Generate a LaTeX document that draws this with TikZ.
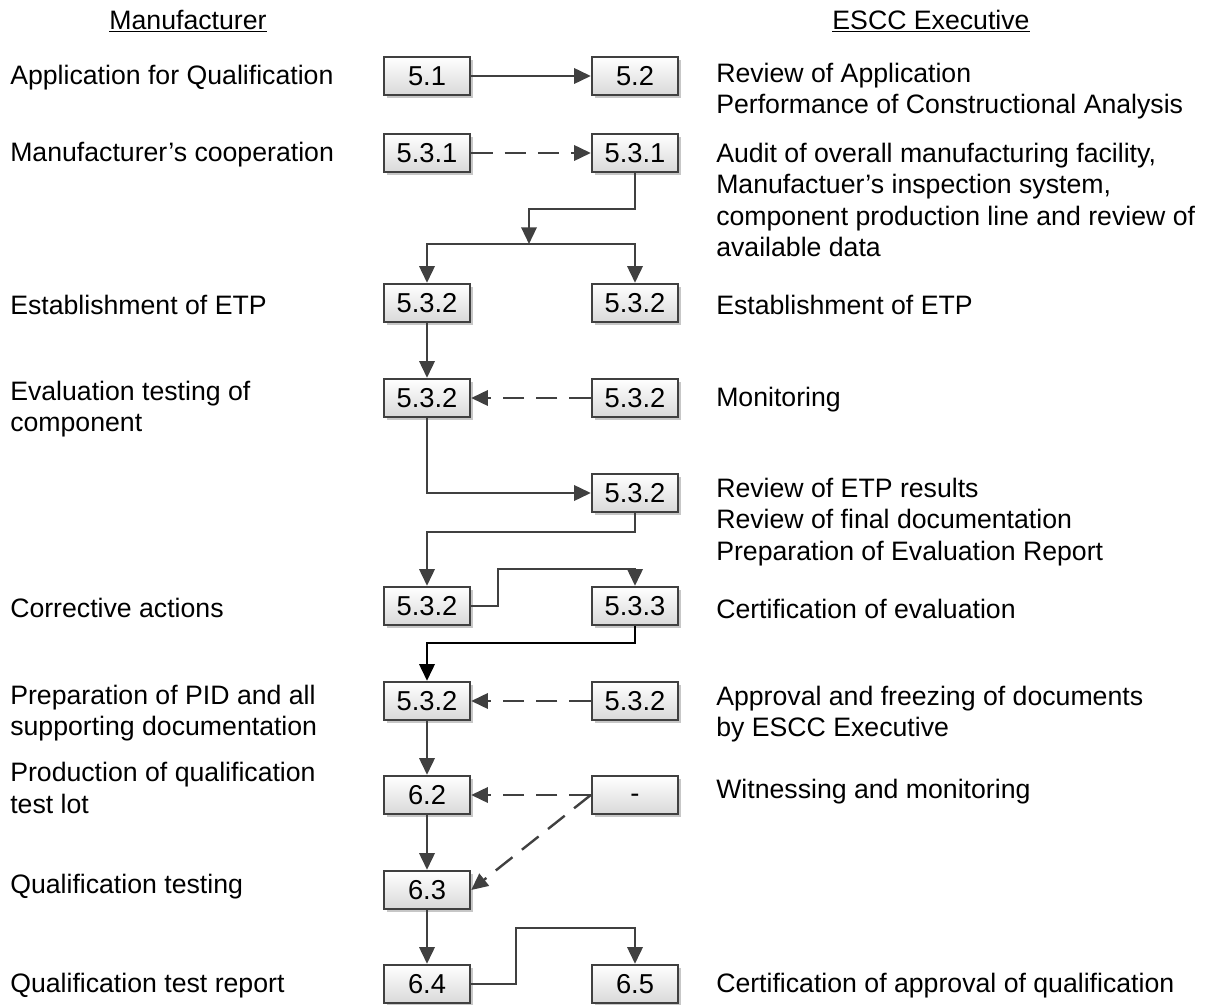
\documentclass[tikz,border=0pt]{standalone}
\usepackage{fontspec}
\setmainfont{Liberation Sans}
\usetikzlibrary{arrows.meta,shadows}
\definecolor{linegray}{HTML}{404040}
\begin{document}
\begin{tikzpicture}[x=0.75pt,y=-0.75pt,
 box/.style={draw=linegray, line width=1.8pt, top color=white, bottom color=black!15,
   minimum width=64.5pt, minimum height=28.5pt, inner sep=0pt,
   text height=14.2pt, text depth=0pt,
   font=\fontsize{20.5}{24}\selectfont,
   drop shadow={shadow xshift=2.5pt, shadow yshift=-2.5pt, fill=black, opacity=0.22}},
 lbl/.style={anchor=west, align=left, inner sep=0pt, font=\fontsize{20}{23.6}\selectfont},
 hdr/.style={inner sep=0pt, font=\fontsize{20}{24}\selectfont},
 conn/.style={color=linegray, line width=1.8pt, -{Triangle[length=12.5pt,width=11.5pt]}},
 dconn/.style={conn, dash pattern=on 16pt off 9pt}]
\useasboundingbox (0,0) rectangle (1211,1005);

% headers
\node[hdr] (hM) at (188,21) {\underline{Manufacturer}};
\node[hdr] (hE) at (931,21) {\underline{ESCC Executive}};

% boxes
\node[box] (L1) at (427,76) {5.1};
\node[box] (R1) at (635,76) {5.2};
\node[box] (L2) at (427,153) {5.3.1};
\node[box] (R2) at (635,153) {5.3.1};
\node[box] (L3) at (427,303) {5.3.2};
\node[box] (R3) at (635,303) {5.3.2};
\node[box] (L4) at (427,398) {5.3.2};
\node[box] (R4) at (635,398) {5.3.2};
\node[box] (R5) at (635,493) {5.3.2};
\node[box] (L6) at (427,606) {5.3.2};
\node[box] (R6) at (635,606) {5.3.3};
\node[box] (L7) at (427,701) {5.3.2};
\node[box] (R7) at (635,701) {5.3.2};
\node[box] (L8) at (427,795) {6.2};
\node[box, text height=11pt] (R8) at (635,795) {-};
\node[box] (L9) at (427,890) {6.3};
\node[box] (L10) at (427,984) {6.4};
\node[box] (R10) at (635,984) {6.5};

% left labels
\node[lbl] (t1) at (10,78) {Application for Qualification};
\node[lbl] (t2) at (10,155) {Manufacturer’s cooperation};
\node[lbl] (t3) at (10,305) {Establishment of ETP};
\node[lbl] (t4) at (10,409) {Evaluation testing of\\component};
\node[lbl] (t6) at (10,608) {Corrective actions};
\node[lbl] (t7) at (10,713) {Preparation of PID and all\\supporting documentation};
\node[lbl] (t8) at (10,788) {Production of qualification\\test lot};
\node[lbl] (t9) at (10,887) {Qualification testing};
\node[lbl] (t10) at (10,986) {Qualification test report};

% right labels
\node[lbl] (s1) at (716,91) {Review of Application\\Performance of Constructional Analysis};
\node[lbl] (s2) at (716,200) {Audit of overall manufacturing facility,\\Manufactuer’s inspection system,\\component production line and review of\\available data};
\node[lbl] (s3) at (716,305) {Establishment of ETP};
\node[lbl] (s4) at (716,400) {Monitoring};
\node[lbl] (s5) at (716,522) {Review of ETP results\\Review of final documentation\\Preparation of Evaluation Report};
\node[lbl] (s6) at (716,609) {Certification of evaluation};
\node[lbl] (s7) at (716,714) {Approval and freezing of documents\\by ESCC Executive};
\node[lbl] (s8) at (716,792) {Witnessing and monitoring};
\node[lbl] (s10) at (716,986) {Certification of approval of qualification};

% junction coordinates
\coordinate (c1) at (529,209);
\coordinate (j1) at (529,244);

% connectors
\draw[conn] (L1) -- (R1);
\draw[dconn] (L2) -- (R2);
\draw[conn] (R2.south) |- (c1) -- (j1);
\draw[conn] (j1) -| (L3.north);
\draw[conn] (j1) -| (R3.north);
\draw[conn] (L3) -- (L4);
\draw[dconn] (R4) -- (L4);
\draw[conn] (L4.south) |- (R5.west);
\draw[conn] (R5.south) -- ++(0,19) -| (L6.north);
\draw[conn] (L6.east) -- ++(27,0) -- ++(0,-37) -| (R6.north);
\draw[conn, color=black] (R6.south) -- ++(0,17) -| (L7.north);
\draw[conn] (L7) -- (L8);
\draw[dconn] (R7) -- (L7);
\draw[dconn] (R8) -- (L8);
\draw[dconn] (R8.west) -- (L9.east);
\draw[conn] (L8) -- (L9);
\draw[conn] (L9) -- (L10);
\draw[conn] (L10.east) -- ++(45,0) -- ++(0,-56) -| (R10.north);
\end{tikzpicture}
\end{document}
